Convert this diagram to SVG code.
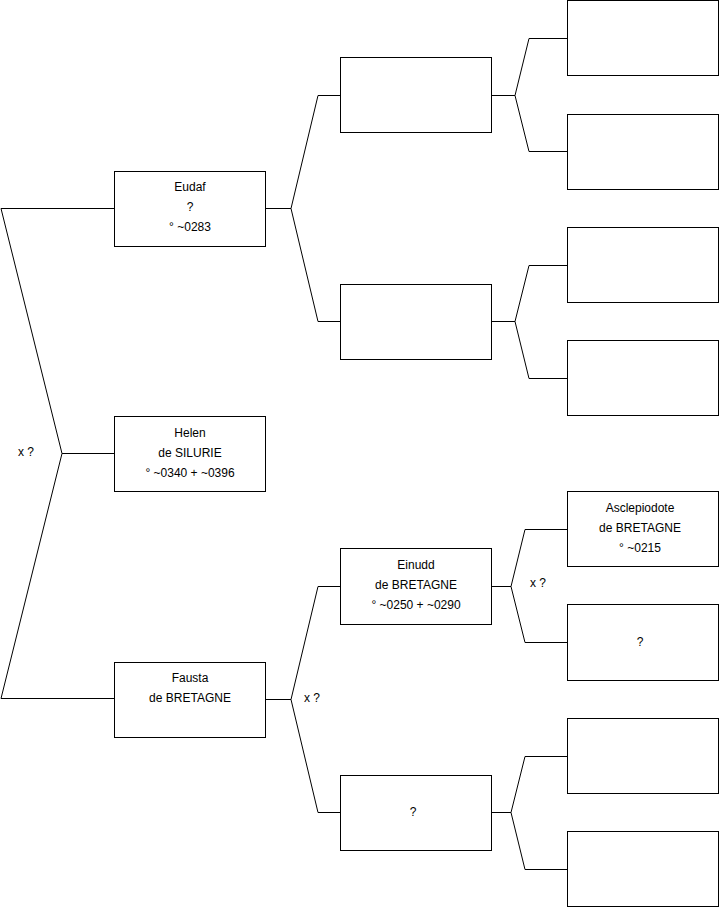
<svg xmlns="http://www.w3.org/2000/svg" width="719" height="908" viewBox="0 0 719 908">
<style>
.b{fill:#fff;stroke:#000;stroke-width:1}
.c{fill:none;stroke:#000;stroke-width:1}
text{font-family:"Liberation Sans",Arial,sans-serif;font-size:12px;fill:#000;text-anchor:middle}
.l{text-anchor:start}
</style>
<rect x="0" y="0" width="719" height="908" fill="#fff"/>
<g id="connectors">
<polyline class="c" points="114,208.5 1,208.5 62,453.5 1,698.5 114,698.5"/>
<line class="c" x1="62" y1="453.5" x2="114" y2="453.5"/>
<polyline class="c" points="340,95.5 318,95.5 291,208.5 318,321.5 340,321.5"/>
<line class="c" x1="265" y1="208.5" x2="291" y2="208.5"/>
<polyline class="c" points="340,586.5 318,586.5 291,699.5 318,812.5 340,812.5"/>
<line class="c" x1="265" y1="699.5" x2="291" y2="699.5"/>
<polyline class="c" points="567,38.5 529,38.5 515,95.5 529,151.5 567,151.5"/>
<line class="c" x1="491" y1="95.5" x2="515" y2="95.5"/>
<polyline class="c" points="567,265.5 529,265.5 515,321.5 529,378.5 567,378.5"/>
<line class="c" x1="491" y1="321.5" x2="515" y2="321.5"/>
<polyline class="c" points="567,529.5 525,529.5 511,586.5 525,642.5 567,642.5"/>
<line class="c" x1="491" y1="586.5" x2="511" y2="586.5"/>
<polyline class="c" points="567,756.5 525,756.5 511,812.5 525,869.5 567,869.5"/>
<line class="c" x1="491" y1="812.5" x2="511" y2="812.5"/>
<text class="l" x="18" y="456">x ?</text>
<text class="l" x="304" y="702">x ?</text>
<text class="l" x="530" y="587">x ?</text>
</g>
<g id="eudaf"><rect class="b" x="114.5" y="171.5" width="151" height="75"/><text x="190" y="191">Eudaf</text><text x="190" y="211">?</text><text x="190" y="231">° ~0283</text></g>
<g id="helen"><rect class="b" x="114.5" y="416.5" width="151" height="75"/><text x="190" y="437">Helen</text><text x="190" y="457">de SILURIE</text><text x="190" y="477">° ~0340 + ~0396</text></g>
<g id="fausta"><rect class="b" x="114.5" y="662.5" width="151" height="75"/><text x="190" y="682">Fausta</text><text x="190" y="702">de BRETAGNE</text></g>
<g id="g2a"><rect class="b" x="340.5" y="57.5" width="151" height="75"/></g>
<g id="g2b"><rect class="b" x="340.5" y="284.5" width="151" height="75"/></g>
<g id="einudd"><rect class="b" x="340.5" y="548.5" width="151" height="76"/><text x="416" y="569">Einudd</text><text x="416" y="589">de BRETAGNE</text><text x="416" y="609">° ~0250 + ~0290</text></g>
<g id="g2d"><rect class="b" x="340.5" y="775.5" width="151" height="75"/><text x="413" y="816">?</text></g>
<g id="g3a"><rect class="b" x="567.5" y="0.5" width="151" height="75"/></g>
<g id="g3b"><rect class="b" x="567.5" y="114.5" width="151" height="75"/></g>
<g id="g3c"><rect class="b" x="567.5" y="227.5" width="151" height="75"/></g>
<g id="g3d"><rect class="b" x="567.5" y="340.5" width="151" height="75"/></g>
<g id="asclepiodote"><rect class="b" x="567.5" y="491.5" width="151" height="75"/><text x="640" y="512">Asclepiodote</text><text x="640" y="532">de BRETAGNE</text><text x="640" y="552">° ~0215</text></g>
<g id="g3f"><rect class="b" x="567.5" y="604.5" width="151" height="76"/><text x="640" y="646">?</text></g>
<g id="g3g"><rect class="b" x="567.5" y="718.5" width="151" height="75"/></g>
<g id="g3h"><rect class="b" x="567.5" y="831.5" width="151" height="75"/></g>
</svg>
